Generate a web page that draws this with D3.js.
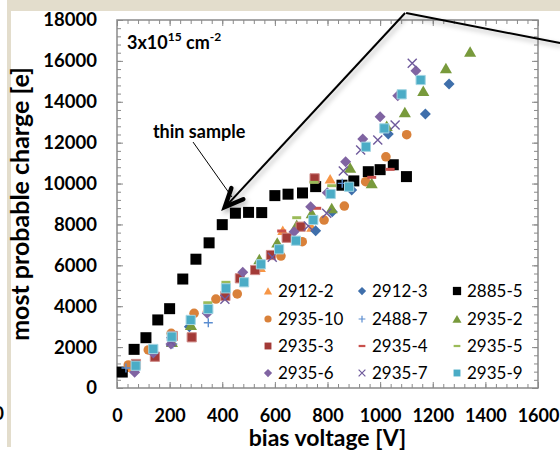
<!DOCTYPE html>
<html>
<head>
<meta charset="utf-8">
<script src="https://cdn.jsdelivr.net/npm/d3@7"></script>
<style>
  body { margin: 0; background: #fff; }
  svg { display: block; }
  text { font-family: Lato, "Open Sans", sans-serif; }
</style>
</head>
<body>
<div id="container"></div>
<script>
/* DATA : [bias voltage V, most probable charge e] */
const s2912_2 = [[45,1000],[210,2600],[345,3950],[545,5900],[630,7700],[740,7860],[810,10220]];
const s2912_3 = [[70,950],[209,2350],[275,3000],[755,7695],[818,8625],[892,9685],[1031,12425],[1172,13400],[1262,14870]];
const s2885_5 = [[20,780],[65,1890],[110,2460],[155,3330],[200,3880],[250,5330],[300,6300],[350,7100],[400,7990],[450,8550],[500,8590],[550,8580],[600,9410],[650,9480],[705,9540],[755,9850],[855,9920],[900,10130],[955,10580],[1000,10680],[1050,10920],[1100,10340]];
const s2935_10 = [[43,1125],[119,1860],[206,2675],[293,3655],[376,4350],[457,4600],[623,6455],[704,7155],[787,8215],[864,8900],[945,10090],[1022,11310],[1101,12390]];
const s2488_7 = [[34,980],[212,2150],[347,3195],[856,10010]];
const s2935_2 = [[209,2250],[281,3080],[541,6295],[609,7110],[683,7975],[740,8545],[816,8790],[886,10775],[968,10010],[1025,12815],[1094,13485],[1164,14530],[1250,15640],[1342,16450]];
const s2935_3 = [[72,1175],[144,1530],[212,2545],[284,2480],[412,4500],[467,5365],[525,5770],[585,6505],[645,7350],[698,7890],[751,10255]];
const s2935_4 = [[626,7680],[759,8790],[968,10305],[1038,10695]];
const s2935_5 = [[345,4170],[414,5170],[683,8330],[749,10060],[816,9895]];
const s2935_6 = [[67,770],[138,1710],[205,2150],[343,3655],[478,5660],[673,7645],[736,8870],[799,9555],[869,11070],[934,12180],[1000,13270],[1067,14300],[1136,15520]];
const s2935_7 = [[205,2265],[410,4340],[590,6400],[727,7925],[797,8545],[860,10615],[926,11640],[991,12130],[1057,12865],[1122,15880]];
const s2935_9 = [[71,1090],[138,1910],[208,2510],[280,3330],[347,3865],[414,4875],[483,5170],[547,6050],[616,6785],[680,7205],[746,8220],[812,9490],[882,9845],[946,11800],[1016,12700],[1082,14365],[1154,15065]];

const seriesNames = ["2912-2","2912-3","2885-5","2935-10","2488-7","2935-2","2935-3","2935-4","2935-5","2935-6","2935-7","2935-9"];
const xTicks = [0,200,400,600,800,1000,1200,1400,1600];
const yTicks = [0,2000,4000,6000,8000,10000,12000,14000,16000,18000];

/* CONSTANTS */
const width = 560, height = 450;
const plot = { left: 117, right: 538, top: 20, bottom: 388 };

const series = [
  { data: s2912_2, shape: "triangle", color: "#f79646", size: 5 },
  { data: s2912_3, shape: "diamond", color: "#3f6fab", size: 5.5 },
  { data: s2885_5, shape: "square", color: "#000", size: 5.5 },
  { data: s2935_10, shape: "circle", color: "#d9813a", size: 4.8 },
  { data: s2488_7, shape: "plus", color: "#5b8dd0", size: 4.5 },
  { data: s2935_2, shape: "triangle", color: "#789a3c", size: 5.5 },
  { data: s2935_3, shape: "square", color: "#a33a37", size: 4.6, stroke: "#cf8a87" },
  { data: s2935_4, shape: "dash", color: "#c9504c", size: 4.5 },
  { data: s2935_5, shape: "dash", color: "#9bbb59", size: 4.5 },
  { data: s2935_6, shape: "diamond", color: "#8064a2", size: 5.5 },
  { data: s2935_7, shape: "x", color: "#6f5a9c", size: 4.5 },
  { data: s2935_9, shape: "square", color: "#4bacc6", size: 4.6, stroke: "#a3d5e3" }
];
series.forEach((s, i) => s.name = seriesNames[i]);

function shapePath(type, s) {
  switch (type) {
    case "square": return `M${-s},${-s}h${2*s}v${2*s}h${-2*s}Z`;
    case "diamond": return `M0,${-s}L${s},0L0,${s}L${-s},0Z`;
    case "triangle": return `M0,${-s}L${s*1.1},${s*0.9}L${-s*1.1},${s*0.9}Z`;
    case "circle": return d3.symbol(d3.symbolCircle, Math.PI * s * s)();
    case "plus": return `M${-s},0H${s}M0,${-s}V${s}`;
    case "x": return `M${-s},${-s}L${s},${s}M${-s},${s}L${s},${-s}`;
    case "dash": return `M${-s},${-s*0.33}h${2*s}v${s*0.66}h${-2*s}Z`;
  }
}
const isLine = t => t === "plus" || t === "x";

/* SVG */
const svg = d3.select("#container").append("svg")
  .attr("width", width).attr("height", height);

const defs = svg.append("defs");
defs.append("filter").attr("id", "shadow")
  .attr("x", "-20%").attr("y", "-20%").attr("width", "140%").attr("height", "140%")
  .append("feDropShadow")
  .attr("dx", 2).attr("dy", 3).attr("stdDeviation", 2.5)
  .attr("flood-color", "#000").attr("flood-opacity", 0.3);

// slide background pieces
svg.append("rect").attr("x", 7).attr("y", 0).attr("width", width - 7).attr("height", 11).attr("fill", "#e3ddcc");
svg.append("rect").attr("x", 7).attr("y", 0).attr("width", 4).attr("height", 447).attr("fill", "#e3ddcc");
svg.append("text").attr("x", 4).attr("y", 420).attr("text-anchor", "end")
  .attr("font-weight", "bold").attr("font-size", 18).text("0");

// SCALES
const x = d3.scaleLinear().domain([0, 1600]).range([plot.left, plot.right]);
const y = d3.scaleLinear().domain([0, 18000]).range([plot.bottom, plot.top]);

// plot frame
svg.append("rect")
  .attr("x", plot.left).attr("y", plot.top)
  .attr("width", plot.right - plot.left).attr("height", plot.bottom - plot.top)
  .attr("fill", "#fff").attr("stroke", "#8a8a8a").attr("stroke-width", 1.5);

// AXES (inside ticks, mirrored on all sides)
const xMinor = d3.range(0, 1601, 40);
const yMinor = d3.range(0, 18001, 400);
const tickStyle = g => {
  g.select(".domain").remove();
  g.selectAll(".tick line").attr("stroke", "#8a8a8a").attr("stroke-width", 1);
};

[[d3.axisBottom, plot.bottom], [d3.axisTop, plot.top]].forEach(([ax, pos]) => {
  svg.append("g").attr("transform", `translate(0,${pos})`)
    .call(ax(x).tickValues(xMinor).tickSize(-4).tickFormat("")).call(tickStyle);
  svg.append("g").attr("transform", `translate(0,${pos})`)
    .call(ax(x).tickValues(xTicks).tickSize(-6).tickFormat("")).call(tickStyle);
});
[[d3.axisLeft, plot.left], [d3.axisRight, plot.right]].forEach(([ax, pos]) => {
  svg.append("g").attr("transform", `translate(${pos},0)`)
    .call(ax(y).tickValues(yMinor).tickSize(-4).tickFormat("")).call(tickStyle);
  svg.append("g").attr("transform", `translate(${pos},0)`)
    .call(ax(y).tickValues(yTicks).tickSize(-6).tickFormat("")).call(tickStyle);
});

// tick labels
const xAxis = svg.append("g").attr("transform", `translate(0,${plot.bottom})`)
  .call(d3.axisBottom(x).tickValues(xTicks).tickSize(0).tickPadding(21).tickFormat(d3.format("d")));
xAxis.select(".domain").remove();
xAxis.selectAll("text").attr("font-family", "Lato").attr("font-weight", "bold")
  .attr("font-size", 18).attr("fill", "#000");

const yAxis = svg.append("g").attr("transform", `translate(${plot.left},0)`)
  .call(d3.axisLeft(y).tickValues(yTicks).tickSize(0).tickPadding(20).tickFormat(d3.format("d")));
yAxis.select(".domain").remove();
yAxis.selectAll("text").attr("font-family", "Lato").attr("font-weight", "bold")
  .attr("font-size", 18.5).attr("fill", "#000");

// axis titles
svg.append("text")
  .attr("x", (plot.left + plot.right) / 2).attr("y", 446)
  .attr("text-anchor", "middle").attr("font-weight", "bold").attr("font-size", 23)
  .text("bias voltage [V]");
svg.append("text")
  .attr("transform", `translate(29,${(plot.top + plot.bottom) / 2}) rotate(-90)`)
  .attr("text-anchor", "middle").attr("font-weight", "bold").attr("font-size", 25)
  .text("most probable charge [e]");

// fluence label
const flu = svg.append("text").attr("x", 127).attr("y", 49)
  .attr("font-weight", "bold").attr("font-size", 18);
flu.append("tspan").text("3x10");
flu.append("tspan").attr("dy", -8).attr("font-size", 12).text("15");
flu.append("tspan").attr("dy", 8).text(" cm");
flu.append("tspan").attr("dy", -8).attr("font-size", 12).text("-2");

// DATA POINTS
series.forEach(s => {
  svg.append("g").selectAll("path")
    .data(s.data)
    .join("path")
    .attr("transform", d => `translate(${x(d[0])},${y(d[1])})`)
    .attr("d", shapePath(s.shape, s.size))
    .attr("fill", isLine(s.shape) ? "none" : s.color)
    .attr("stroke", isLine(s.shape) ? s.color : (s.stroke || "none"))
    .attr("stroke-width", isLine(s.shape) ? 1.4 : 1);
});

// LEGEND
const legCols = [268, 362, 457], legRows = [291, 319, 346, 373];
const legend = svg.append("g").attr("class", "legend");
series.forEach((s, i) => {
  const cx = legCols[i % 3], cy = legRows[Math.floor(i / 3)];
  legend.append("path")
    .attr("transform", `translate(${cx},${cy})`)
    .attr("d", shapePath(s.shape, s.size * 0.75))
    .attr("fill", isLine(s.shape) ? "none" : s.color)
    .attr("stroke", isLine(s.shape) ? s.color : "none")
    .attr("stroke-width", 1.2);
  legend.append("text")
    .attr("x", cx + 10).attr("y", cy).attr("dy", "0.36em")
    .attr("font-size", 17).text(s.name);
});

// ANNOTATIONS
svg.append("text").attr("x", x(312)).attr("y", y(12230))
  .attr("text-anchor", "middle").attr("font-weight", "bold").attr("font-size", 18)
  .text("thin sample");
svg.append("line")
  .attr("x1", x(289)).attr("y1", y(12030)).attr("x2", x(437)).attr("y2", y(9340))
  .attr("stroke", "#000").attr("stroke-width", 1);

const ann = svg.append("g").attr("filter", "url(#shadow)");
const start = [x(1095), y(18340)], tip = [x(410), y(8850)], endR = [x(1684), y(16870)];
ann.append("line")
  .attr("x1", start[0]).attr("y1", start[1]).attr("x2", tip[0] + 3).attr("y2", tip[1] - 3)
  .attr("stroke", "#000").attr("stroke-width", 2);
ann.append("line")
  .attr("x1", start[0] + 1).attr("y1", start[1]).attr("x2", endR[0]).attr("y2", endR[1])
  .attr("stroke", "#000").attr("stroke-width", 2);
const ang = Math.atan2(start[1] - tip[1], start[0] - tip[0]);
const headLen = 20, spread = 0.42;
const w1 = [tip[0] + headLen * Math.cos(ang - spread), tip[1] + headLen * Math.sin(ang - spread)];
const w2 = [tip[0] + headLen * Math.cos(ang + spread), tip[1] + headLen * Math.sin(ang + spread)];
ann.append("path")
  .attr("d", `M${w1[0]},${w1[1]}L${tip[0]},${tip[1]}L${w2[0]},${w2[1]}`)
  .attr("fill", "none").attr("stroke", "#000").attr("stroke-width", 4.5)
  .attr("stroke-linejoin", "miter").attr("stroke-linecap", "round");
</script>
</body>
</html>
